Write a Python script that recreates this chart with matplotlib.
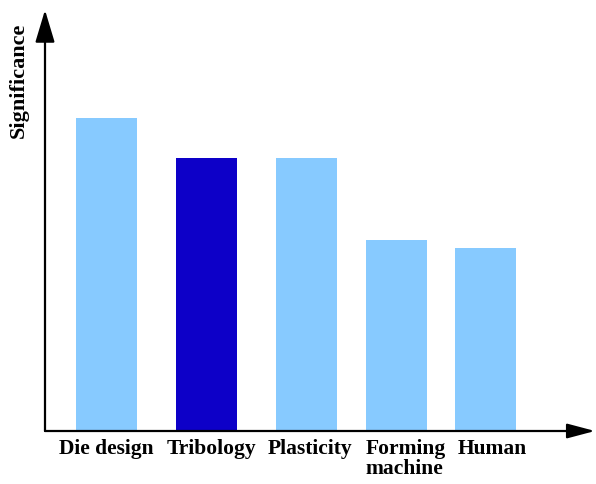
import matplotlib.pyplot as plt
from matplotlib.transforms import ScaledTranslation

# bar data (arbitrary units, no ticks on the y axis)
categories = ['Die design', 'Tribology', 'Plasticity', 'Forming\nmachine', 'Human']
significance = [7.7, 6.7, 6.7, 4.7, 4.5]
colors = ['#87caff', '#0d00c8', '#87caff', '#87caff', '#87caff']

# bars are not evenly spaced in the original
positions = [0, 1, 2, 2.9, 3.8]
# labels sit a little to the right of the bar centres (pixels)
label_shift = [0, 5, 4, 10, 6]

fig = plt.figure(figsize=(5.96, 4.84), dpi=100)
ax = fig.add_axes([45 / 596, 53 / 484, 550 / 596, 421 / 484])

ax.bar(positions, significance, width=0.61, color=colors, edgecolor='none')
ax.set_xlim(-0.61, 4.89)
ax.set_ylim(0, 10.35)

for s in ax.spines.values():
    s.set_visible(False)
ax.set_yticks([])
ax.set_xticks(positions)
ax.set_xticklabels(categories, fontfamily='Liberation Serif', fontweight='bold',
                   fontsize=15.5, multialignment='left', linespacing=1.0)
ax.tick_params(axis='x', length=0, pad=6)
for lab, dx in zip(ax.get_xticklabels(), label_shift):
    lab.set_transform(lab.get_transform() + ScaledTranslation(dx / 100, 0, fig.dpi_scale_trans))

# axes drawn as arrows
ax.annotate('', xy=(1.0, 0), xytext=(0, 0), xycoords='axes fraction',
            arrowprops=dict(arrowstyle='-|>,head_length=1.7,head_width=0.45',
                            lw=1.6, color='black', shrinkA=0, shrinkB=0))
ax.annotate('', xy=(0, 1.0), xytext=(0, 0), xycoords='axes fraction',
            arrowprops=dict(arrowstyle='-|>,head_length=2.0,head_width=0.6',
                            lw=1.6, color='black', shrinkA=0, shrinkB=0))

fig.text(19 / 596, 1 - 80 / 484, 'Significance', rotation=90, ha='center', va='center',
         fontfamily='Liberation Serif', fontweight='bold', fontsize=16)

fig.savefig('out.png', dpi=100)
